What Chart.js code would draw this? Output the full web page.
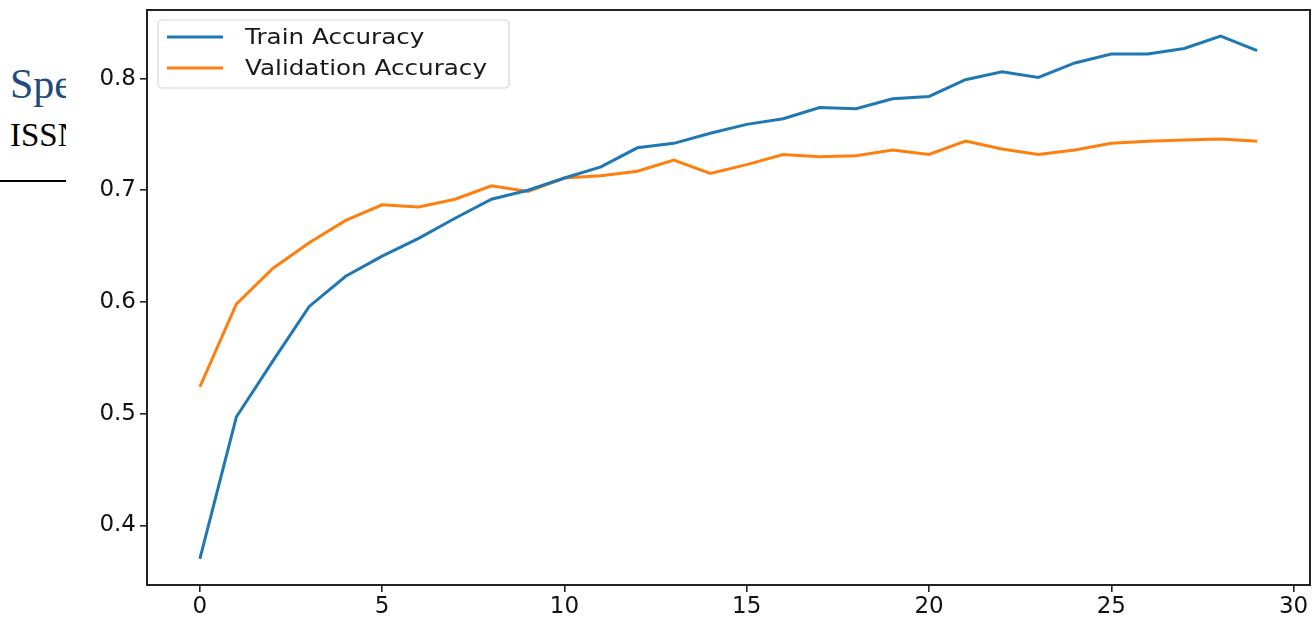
<!DOCTYPE html>
<html>
<head>
<meta charset="utf-8">
<script src="https://cdn.jsdelivr.net/npm/chart.js@4.4.1/dist/chart.umd.min.js"></script>
<style>
  html, body { margin: 0; padding: 0; background: #fff; }
  body { width: 1312px; height: 620px; position: relative; overflow: hidden; }
  .page { position: absolute; left: 10px; font-family: "Liberation Serif", "DejaVu Serif", serif; white-space: nowrap; }
  #spe { top: 60px; font-size: 42px; color: #1f4b7e; }
  #issn { top: 117px; font-size: 33px; color: #000; }
  #rule { position: absolute; left: 0; top: 180px; width: 70px; height: 2px; background: #000; }
  #wrap { position: absolute; left: 66px; top: 0; width: 1246px; height: 620px; background: #fff; }
</style>
</head>
<body>
<div class="page" id="spe">Spectrum</div>
<div class="page" id="issn">ISSN</div>
<div id="rule"></div>
<div id="wrap"><canvas id="chart" width="1246" height="620"></canvas></div>
<script>
// epochs 0..29
const epochs = [0,1,2,3,4,5,6,7,8,9,10,11,12,13,14,15,16,17,18,19,20,21,22,23,24,25,26,27,28,29];
const trainAcc = [0.370,0.497,0.547,0.596,0.623,0.641,0.657,0.675,0.692,0.700,0.711,0.721,0.738,0.742,0.751,0.759,0.764,0.774,0.773,0.782,0.784,0.799,0.806,0.801,0.814,0.822,0.822,0.827,0.838,0.825];
const valAcc = [0.524,0.598,0.630,0.653,0.673,0.687,0.685,0.692,0.704,0.699,0.711,0.713,0.717,0.727,0.715,0.723,0.732,0.730,0.731,0.736,0.732,0.744,0.737,0.732,0.736,0.742,0.744,0.745,0.746,0.744];
const xTicks = [0, 5, 10, 15, 20, 25, 30];
const yTicks = [0.4, 0.5, 0.6, 0.7, 0.8];
const seriesNames = ['Train Accuracy', 'Validation Accuracy'];

const BLUE = '#1f77b4';
const ORANGE = '#ff7f0e';
const FONT = '"DejaVu Sans", sans-serif';

// matplotlib style box around plot area
const framePlugin = {
  id: 'frame',
  afterDraw(chart) {
    const { ctx, chartArea: a } = chart;
    ctx.save();
    ctx.strokeStyle = '#222';
    ctx.lineWidth = 2;
    ctx.strokeRect(a.left, a.top, a.right - a.left, a.bottom - a.top);
    ctx.restore();
  }
};

// legend in the upper left, drawn by hand
const legendPlugin = {
  id: 'boxLegend',
  afterDatasetsDraw(chart) {
    const { ctx, chartArea: a } = chart;
    const x = a.left + 11, y = a.top + 10, w = 351, h = 68;
    ctx.save();
    ctx.beginPath();
    ctx.roundRect(x, y, w, h, 4);
    ctx.fillStyle = 'rgba(255,255,255,0.85)';
    ctx.fill();
    ctx.strokeStyle = '#d4d4d4';
    ctx.lineWidth = 1.2;
    ctx.stroke();
    chart.data.datasets.forEach((ds, i) => {
      const ly = y + 17 + i * 31;
      ctx.beginPath();
      ctx.moveTo(x + 9, ly);
      ctx.lineTo(x + 65, ly);
      ctx.strokeStyle = ds.borderColor;
      ctx.lineWidth = 3;
      ctx.stroke();
      ctx.save();
      ctx.translate(x + 87, ly);
      ctx.scale(1.12, 1);
      ctx.fillStyle = '#1a1a1a';
      ctx.font = '22px ' + FONT;
      ctx.textBaseline = 'middle';
      ctx.fillText(ds.label, 0, 1);
      ctx.restore();
    });
    ctx.restore();
  }
};

new Chart(document.getElementById('chart'), {
  type: 'line',
  data: {
    datasets: [
      {
        label: seriesNames[0],
        data: epochs.map((e, i) => ({ x: e, y: trainAcc[i] })),
        borderColor: BLUE,
        borderWidth: 3,
        pointRadius: 0,
        tension: 0
      },
      {
        label: seriesNames[1],
        data: epochs.map((e, i) => ({ x: e, y: valAcc[i] })),
        borderColor: ORANGE,
        borderWidth: 3,
        pointRadius: 0,
        tension: 0
      }
    ]
  },
  options: {
    responsive: false,
    animation: false,
    layout: { padding: { top: 10, right: 2, left: 0, bottom: 0 } },
    plugins: {
      legend: { display: false },
      title: { display: false },
      tooltip: { enabled: false }
    },
    scales: {
      x: {
        type: 'linear',
        min: -1.45,
        max: 30.45,
        afterBuildTicks: s => { s.ticks = xTicks.map(v => ({ value: v })); },
        afterFit: s => { s.height = 35; s.paddingLeft = 0; s.paddingRight = 0; },
        ticks: { color: '#111', font: { family: FONT, size: 23 }, padding: 1, maxRotation: 0, callback: v => String(v) },
        grid: { drawOnChartArea: false, drawTicks: true, tickLength: 7, color: '#222', lineWidth: 1.6 },
        border: { display: false }
      },
      y: {
        min: 0.3466,
        max: 0.8614,
        afterBuildTicks: s => { s.ticks = yTicks.map(v => ({ value: v })); },
        afterFit: s => { s.width = 81; s.paddingTop = 0; s.paddingBottom = 0; },
        ticks: { color: '#111', font: { family: FONT, size: 23 }, padding: 4, callback: v => v.toFixed(1) },
        grid: { drawOnChartArea: false, drawTicks: true, tickLength: 7, color: '#222', lineWidth: 1.6 },
        border: { display: false }
      }
    }
  },
  plugins: [framePlugin, legendPlugin]
});
</script>
</body>
</html>
